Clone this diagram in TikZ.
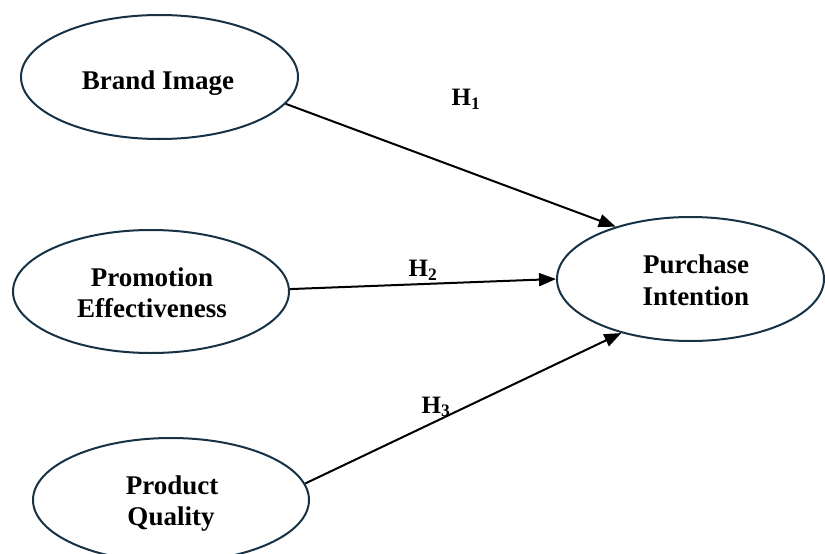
\documentclass[tikz,border=0pt]{standalone}
\usepackage{fontspec}
\setmainfont{Liberation Serif}
\usetikzlibrary{shapes.geometric,arrows.meta}
\definecolor{edgeteal}{RGB}{22,50,68}
\tikzset{
  construct/.style={ellipse, draw=edgeteal, line width=2pt, inner sep=0pt},
  ctext/.style={anchor=base, inner sep=0pt, font=\fontsize{27}{32}\selectfont\bfseries},
  path/.style={draw=black, line width=2pt, -{Triangle[length=17pt,width=13pt]}},
  hlabel/.style={font=\fontsize{25}{28}\selectfont\bfseries, inner sep=0pt}
}
\begin{document}
\begin{tikzpicture}[x=1pt,y=-1pt]
\useasboundingbox (0,0) rectangle (825,554);
\node[construct, minimum width=277pt, minimum height=124pt] (bi) at (159.5,77) {};
\node[construct, minimum width=276pt, minimum height=123pt] (pe) at (151,291.5) {};
\node[construct, minimum width=267pt, minimum height=124pt] (pi) at (690.5,279) {};
\node[construct, minimum width=276pt, minimum height=124pt] (pq) at (171,500) {};
\node[ctext] (bit) at (158,89) {Brand Image};
\node[ctext] (pet1) at (152,286) {Promotion};
\node[ctext] (pet2) at (152,317) {Effectiveness};
\node[ctext] (pit1) at (696,273.5) {Purchase};
\node[ctext] (pit2) at (696,305.5) {Intention};
\node[ctext] (pqt1) at (172,494) {Product};
\node[ctext] (pqt2) at (171,525) {Quality};
\draw[path] (bi.-12.8) -- (pi.145);
\draw[path] (pe.1) -- (pi.180);
\draw[path] (pq.7.6) -- (pi.218.7);
\node[hlabel] (h1) at (466,99) {H\textsubscript{1}};
\node[hlabel] (h2) at (423,270) {H\textsubscript{2}};
\node[hlabel] (h3) at (436,407) {H\textsubscript{3}};
\end{tikzpicture}
\end{document}
